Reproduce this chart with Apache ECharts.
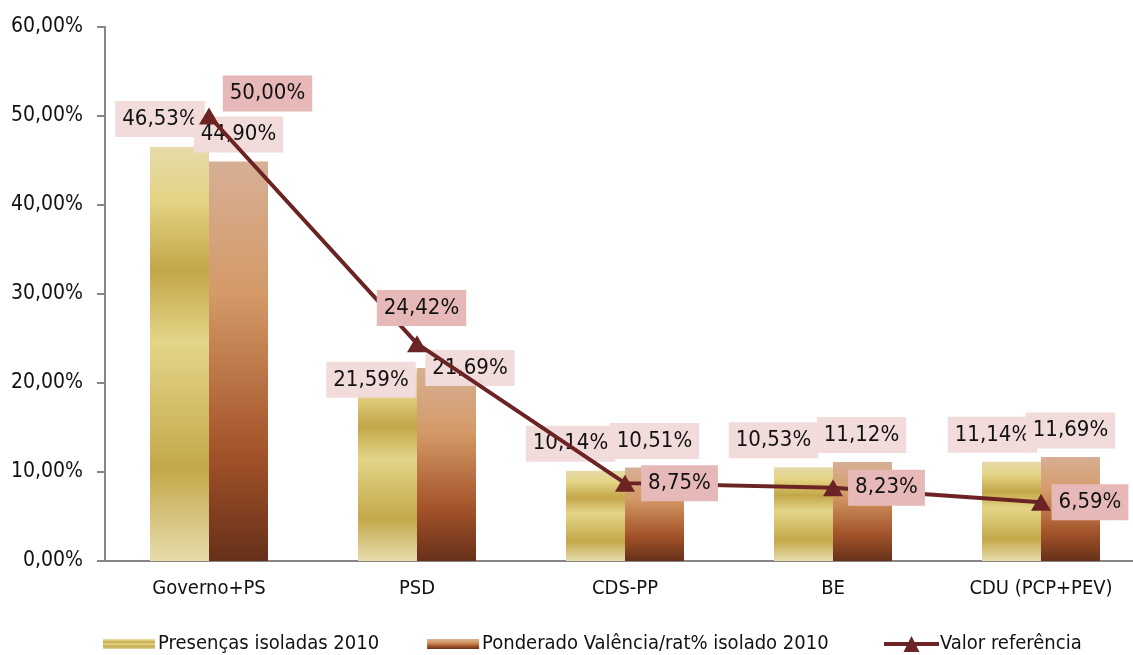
<!DOCTYPE html>
<html>
<head>
<meta charset="utf-8">
<script src="https://cdn.jsdelivr.net/npm/echarts@6/dist/echarts.min.js"></script>
<style>
    html, body { margin: 0; padding: 0; background: #fff; }
    #container { width: 1133px; height: 655px; }
</style>
</head>
<body>
<div id="container"></div>
<script type="text/javascript">
    var categories = ['Governo+PS', 'PSD', 'CDS-PP', 'BE', 'CDU (PCP+PEV)'];
    var presencas = [46.53, 21.59, 10.14, 10.53, 11.14];
    var ponderado = [44.90, 21.69, 10.51, 11.12, 11.69];
    var referencia = [50.00, 24.42, 8.75, 8.23, 6.59];
    var yTicks = [0, 10, 20, 30, 40, 50, 60];

    // label placement as moved by hand in the original
    var presOffsets = [[-19.5, -10], [-16.5, 29], [-25, -9], [-30, -9], [-19, -9]];
    var pondOffsets = [[0, -9], [23.5, 18], [0, -8.5], [-1, -9], [0, -8.5]];
    var refOffsets = [[58.5, -22.5], [4.5, -35.7], [54.5, 0], [53.5, 0], [49, 0]];

    var font = '"DejaVu Sans Condensed", "Liberation Sans Narrow", sans-serif';

    function pct(v) {
        return v.toFixed(2).replace('.', ',') + '%';
    }

    function withLabels(values, offsets) {
        return values.map(function (v, i) {
            return { value: v, label: { offset: offsets[i] } };
        });
    }

    var labelBase = {
        show: true,
        fontFamily: font,
        fontSize: 22,
        lineHeight: 26,
        color: '#111',
        padding: [5, 7],
        formatter: function (p) { return pct(p.value); }
    };

    var dom = document.getElementById('container');
    var myChart = echarts.init(dom);
    var option = {
        animation: false,
        textStyle: { fontFamily: font },
        grid: {
            left: 105, top: 27, width: 1040, height: 534,
            containLabel: false, outerBoundsMode: 'none'
        },
        legend: [
            {
                left: 98,
                top: 629,
                itemWidth: 52,
                itemHeight: 10,
                itemGap: 48,
                icon: 'rect',
                textStyle: { fontFamily: font, fontSize: 20, color: '#111', padding: [0, 0, 0, -2] },
                data: ['Presenças isoladas 2010', 'Ponderado Valência/rat% isolado 2010']
            },
            {
                left: 877,
                top: 629,
                itemWidth: 55,
                itemHeight: 20,
                lineStyle: { width: 4 },
                textStyle: { fontFamily: font, fontSize: 20, color: '#111', padding: [0, 0, 0, -4] },
                data: ['Valor referência']
            }
        ],
        xAxis: {
            type: 'category',
            data: categories,
            axisLine: { lineStyle: { color: '#868686', width: 2 } },
            axisTick: { length: 8, lineStyle: { color: '#868686', width: 2 } },
            axisLabel: { fontFamily: font, fontSize: 20, color: '#111', margin: 18 }
        },
        yAxis: {
            type: 'value',
            min: yTicks[0],
            max: yTicks[yTicks.length - 1],
            interval: yTicks[1] - yTicks[0],
            splitLine: { show: false },
            axisLine: { show: true, lineStyle: { color: '#868686', width: 2 } },
            axisTick: { show: true, length: 8, lineStyle: { color: '#868686', width: 2 } },
            axisLabel: {
                fontFamily: font, fontSize: 21, color: '#111', margin: 22,
                formatter: function (v) { return pct(v); }
            }
        },
        series: [
            {
                name: 'Presenças isoladas 2010',
                type: 'bar',
                barWidth: 59,
                barGap: '0%',
                itemStyle: {
                    color: new echarts.graphic.LinearGradient(0, 0, 0, 1, [
                        { offset: 0, color: '#E6DBAA' },
                        { offset: 0.13, color: '#E3D383' },
                        { offset: 0.3, color: '#C3A649' },
                        { offset: 0.47, color: '#E3D588' },
                        { offset: 0.78, color: '#C4A84A' },
                        { offset: 1, color: '#E6DCAC' }
                    ])
                },
                label: Object.assign({}, labelBase, { position: 'top', distance: 0, backgroundColor: '#F2DCDB' }),
                data: withLabels(presencas, presOffsets)
            },
            {
                name: 'Ponderado Valência/rat% isolado 2010',
                type: 'bar',
                barWidth: 59,
                barGap: '0%',
                itemStyle: {
                    color: new echarts.graphic.LinearGradient(0, 0, 0, 1, [
                        { offset: 0, color: '#D7AF95' },
                        { offset: 0.33, color: '#D49A68' },
                        { offset: 0.72, color: '#A5542A' },
                        { offset: 1, color: '#67301A' }
                    ])
                },
                label: Object.assign({}, labelBase, { position: 'top', distance: 0, backgroundColor: '#F2DCDB' }),
                data: withLabels(ponderado, pondOffsets)
            },
            {
                name: 'Valor referência',
                type: 'line',
                symbol: 'triangle',
                symbolSize: [20, 17],
                itemStyle: { color: '#6B2323' },
                lineStyle: { color: '#6B2323', width: 4 },
                label: Object.assign({}, labelBase, { position: 'inside', backgroundColor: '#E6B9B8' }),
                data: withLabels(referencia, refOffsets),
                z: 3
            }
        ]
    };
    myChart.setOption(option);
</script>
</body>
</html>
